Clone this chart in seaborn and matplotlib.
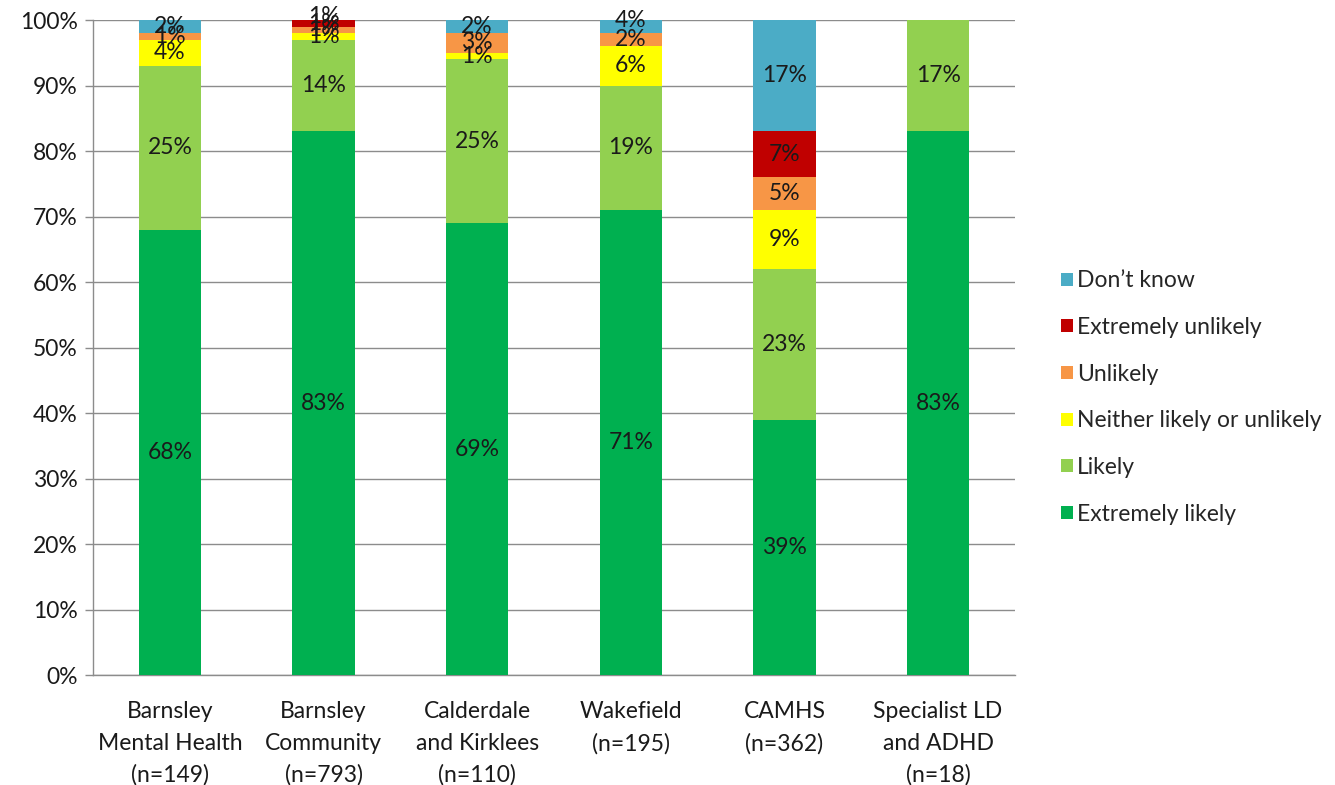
import matplotlib
matplotlib.use("Agg")
import matplotlib.pyplot as plt
import seaborn as sns
import pandas as pd
import numpy as np
from matplotlib.patches import Patch

# Survey responses per service (percent of respondents)
services = [
    "Barnsley\nMental Health\n(n=149)",
    "Barnsley\nCommunity\n(n=793)",
    "Calderdale\nand Kirklees\n(n=110)",
    "Wakefield\n(n=195)",
    "CAMHS\n(n=362)",
    "Specialist LD\nand ADHD\n(n=18)",
]
extremely_likely = [68, 83, 69, 71, 39, 83]
likely = [25, 14, 25, 19, 23, 17]
neither = [4, 1, 1, 6, 9, 0]
unlikely = [1, 1, 3, 2, 5, 0]
extremely_unlikely = [0, 1, 0, 0, 7, 0]
dont_know = [2, 1, 2, 4, 17, 0]

responses = ["Extremely likely", "Likely", "Neither likely or unlikely",
             "Unlikely", "Extremely unlikely", "Don\u2019t know"]
colors = ["#00B050", "#92D050", "#FFFF00", "#F79646", "#C00000", "#4BACC6"]
series = [extremely_likely, likely, neither, unlikely, extremely_unlikely, dont_know]

sns.set_theme(style="white")
plt.rcParams["font.family"] = ["Lato", "DejaVu Sans"]

FS = 16.5
TXT = "#1a1a1a"
GRID = "#8c8c8c"

df = pd.DataFrame({r: v for r, v in zip(responses, series)})
df["service"] = services
cum = df[responses].cumsum(axis=1)

fig = plt.figure(figsize=(13.35, 7.85), dpi=100)
ax = fig.add_axes([0.0697, 0.140, 0.6905, 0.8345])

# Stacked bars: draw cumulative totals from the top segment downwards
for resp, col in reversed(list(zip(responses, colors))):
    sns.barplot(x=df["service"], y=cum[resp], color=col, width=0.405,
                saturation=1, ax=ax, linewidth=0, zorder=3)

# Segment value labels
for i in range(len(services)):
    base = 0
    for resp in responses:
        v = df.loc[i, resp]
        if v > 0:
            ax.text(i, base + v / 2, f"{v}%", ha="center", va="center",
                    fontsize=FS, color=TXT, zorder=5)
        base += v

ax.set_ylim(0, 100)
ax.set_xlim(-0.5, len(services) - 0.5)
ax.set_yticks(np.arange(0, 101, 10))
ax.set_yticklabels([f"{t}%" for t in range(0, 101, 10)], fontsize=FS, color=TXT)
ax.yaxis.grid(True, color=GRID, linewidth=1.0, zorder=0)
ax.set_axisbelow(True)
ax.set_xlabel("")
ax.set_ylabel("")

# Category labels with separator ticks between groups
ax.set_xticks(range(len(services)))
ax.set_xticklabels(services, fontsize=FS, color=TXT, linespacing=1.6)
ax.tick_params(axis="x", length=0, pad=19)
ax.set_xticks(np.arange(-0.5, len(services), 1), minor=True)
ax.tick_params(axis="x", which="minor", length=8, color=GRID, width=1, direction="out")
ax.tick_params(axis="y", length=6, color=GRID, width=1, direction="out", left=True, pad=5)

for s in ["top", "right"]:
    ax.spines[s].set_visible(False)
for s in ["left", "bottom"]:
    ax.spines[s].set_color(GRID)
    ax.spines[s].set_linewidth(1.0)

handles = [Patch(facecolor=c, edgecolor="none", label=r)
           for r, c in zip(reversed(responses), reversed(colors))]
fig.legend(handles=handles, loc="center left", bbox_to_anchor=(0.795, 0.4936),
           frameon=False, fontsize=FS, handlelength=0.5, handleheight=0.5,
           handletextpad=0.2, labelspacing=1.12, borderaxespad=0, borderpad=0)

fig.savefig("out.png", dpi=100)
